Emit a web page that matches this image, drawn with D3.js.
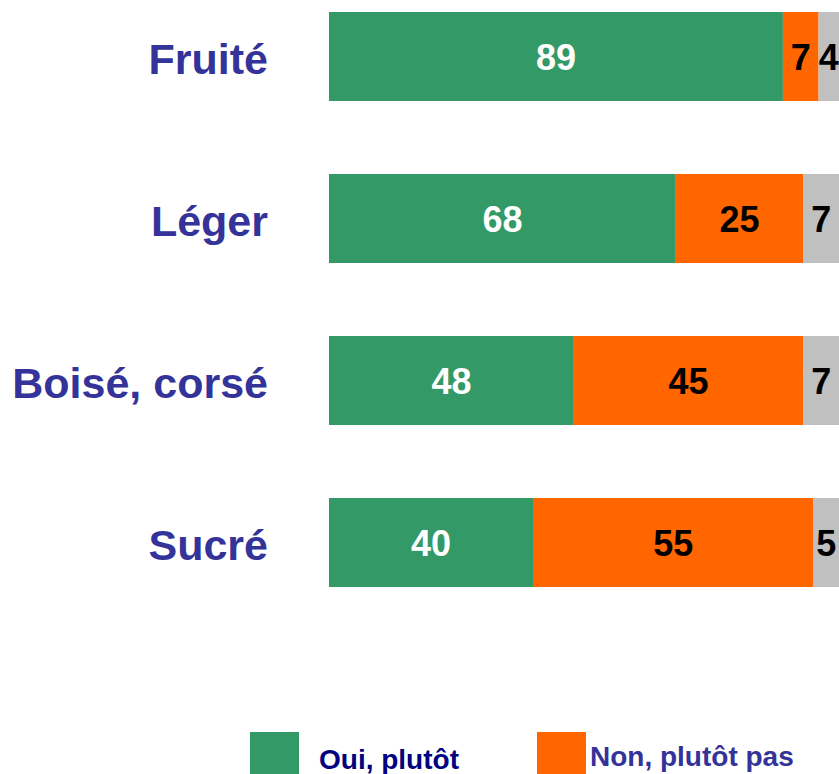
<!DOCTYPE html>
<html>
<head>
<meta charset="utf-8">
<script src="https://cdn.jsdelivr.net/npm/d3@7"></script>
<style>
body{margin:0;background:#fff;}
svg{display:block;}
</style>
</head>
<body>
<svg id="chart"></svg>
<script>
// data
var categories=["Fruité","Léger","Boisé, corsé","Sucré"];
var oui=[89,68,48,40];
var non=[7,25,45,55];
var nsp=[4,7,7,5];
var seriesNames=["Oui, plutôt","Non, plutôt pas"];
var colors=["#339966","#FF6600","#C0C0C0"];

var screen={width:839,height:774}
var svg=d3.select("#chart")
    .attr("width",screen.width)
    .attr("height",screen.height)

var xScale=d3.scaleLinear()
    .domain([0,100])
    .range([329,839])
var yScale=d3.scaleBand()
    .domain(categories)
    .range([12,587])
    .paddingInner(73/162)
    .paddingOuter(0)

// stack the three series per category
var rows=categories.map(function(c,i){
    return {cat:c,values:[oui[i],non[i],nsp[i]]}
})

var groups=svg.selectAll("g.row")
    .data(rows)
    .enter()
    .append("g")
    .attr("class","row")

groups.each(function(row){
    var start=0;
    var segs=row.values.map(function(v,k){
        var s={v:v,k:k,x0:start,x1:start+v};
        start+=v;
        return s
    })
    var g=d3.select(this);
    g.selectAll("rect")
        .data(segs)
        .enter()
        .append("rect")
        .attr("x",function(d){return xScale(d.x0)})
        .attr("width",function(d){return xScale(d.x1)-xScale(d.x0)})
        .attr("y",yScale(row.cat))
        .attr("height",yScale.bandwidth())
        .attr("fill",function(d){return colors[d.k]})
    g.selectAll("text.val")
        .data(segs)
        .enter()
        .append("text")
        .attr("class","val")
        .attr("x",function(d){return (xScale(d.x0)+xScale(d.x1))/2})
        .attr("y",yScale(row.cat)+yScale.bandwidth()/2+13)
        .attr("text-anchor","middle")
        .attr("font-family","'Liberation Sans', Arial, sans-serif")
        .attr("font-weight","bold")
        .attr("font-size",36)
        .attr("fill",function(d){return d.k==0?"#ffffff":"#000000"})
        .text(function(d){return d.v})
    g.append("text")
        .attr("x",268)
        .attr("y",yScale(row.cat)+yScale.bandwidth()/2+17)
        .attr("text-anchor","end")
        .attr("font-family","'Liberation Sans', Arial, sans-serif")
        .attr("font-weight","bold")
        .attr("font-size",43)
        .attr("fill","#333399")
        .text(row.cat)
})

// legend
var legendX=[250,537];
var legendColors=["#000080","#333399"];
var legend=svg.selectAll("g.legend")
    .data(seriesNames)
    .enter()
    .append("g")
    .attr("class","legend")
legend.append("rect")
    .attr("x",function(d,i){return legendX[i]})
    .attr("y",732)
    .attr("width",49)
    .attr("height",50)
    .attr("fill",function(d,i){return colors[i]})
legend.append("text")
    .attr("x",function(d,i){return legendX[i]+(i==0?69:53)})
    .attr("y",function(d,i){return i==0?769:766})
    .attr("font-family","'Liberation Sans', Arial, sans-serif")
    .attr("font-weight","bold")
    .attr("font-size",28)
    .attr("fill",function(d,i){return legendColors[i]})
    .text(function(d){return d})
</script>
</body>
</html>
